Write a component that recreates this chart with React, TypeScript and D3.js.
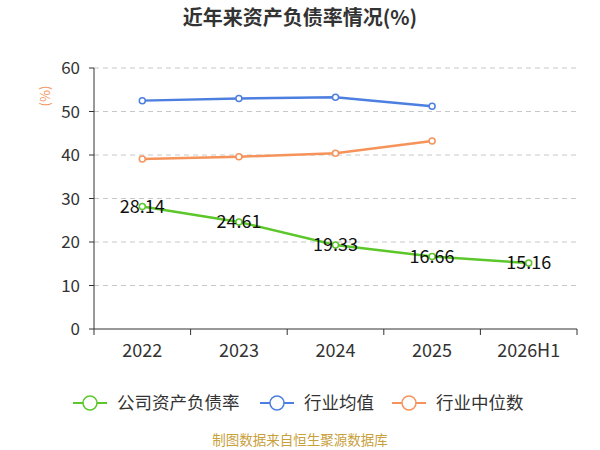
import React from "react";
import * as d3 from "d3";

const categories = ["2022", "2023", "2024", "2025", "2026H1"];
const companyRatio = [28.14, 24.61, 19.33, 16.66, 15.16];
const industryAvg = [52.5, 53.0, 53.3, 51.2];
const industryMedian = [39.1, 39.6, 40.4, 43.2];
const yTicks = [0, 10, 20, 30, 40, 50, 60];

const GREEN = "#5cc72a";
const BLUE = "#4c7fe0";
const ORANGE = "#f6935a";
const FONT = "'Noto Sans CJK SC', 'Noto Sans', sans-serif";

export default function App() {
  const x = d3.scaleBand().domain(categories).range([94, 577]);
  const y = d3.scaleLinear().domain([0, 60]).range([329, 68]);
  const cx = (i: number) => (x(categories[i]) as number) + x.bandwidth() / 2;
  const line = d3.line<number>().x((_, i) => cx(i)).y((d) => y(d));
  const series = [
    { data: industryAvg, color: BLUE },
    { data: industryMedian, color: ORANGE },
    { data: companyRatio, color: GREEN },
  ];
  const legend = [
    { label: "公司资产负债率", color: GREEN, x: 73 },
    { label: "行业均值", color: BLUE, x: 260 },
    { label: "行业中位数", color: ORANGE, x: 392 },
  ];
  return (
    <svg width={600} height={450} style={{ position: "absolute", left: 0, top: 0 }} fontFamily={FONT}>
      <rect width={600} height={450} fill="#fff" />
      <text x={300} y={25} textAnchor="middle" fontSize={20} fontWeight="bold" fill="#333">近年来资产负债率情况(%)</text>
      <text transform="translate(50,96) rotate(-90)" textAnchor="middle" fontSize={13} fill={ORANGE}>(%)</text>
      {yTicks.map((t) => (
        <g key={t}>
          {t > 0 && <line x1={94} x2={577} y1={y(t)} y2={y(t)} stroke="#c8c8c8" strokeDasharray="5,4" />}
          <line x1={89} x2={94} y1={y(t)} y2={y(t)} stroke="#333" />
          <text x={80} y={y(t) + 6} textAnchor="end" fontSize={17} fill="#333">{t}</text>
        </g>
      ))}
      <line x1={94} x2={94} y1={68} y2={329} stroke="#333" />
      <line x1={94} x2={577} y1={329} y2={329} stroke="#333" />
      {categories.map((c, i) => (
        <g key={c}>
          <line x1={x(c) as number} x2={x(c) as number} y1={329} y2={335} stroke="#333" />
          <text x={cx(i)} y={357} textAnchor="middle" fontSize={18} fill="#333">{c}</text>
        </g>
      ))}
      <line x1={577} x2={577} y1={329} y2={335} stroke="#333" />
      {series.map((s, k) => (
        <g key={k}>
          <path d={line(s.data) || ""} fill="none" stroke={s.color} strokeWidth={2.5} />
          {s.data.map((d, i) => (
            <circle key={i} cx={cx(i)} cy={y(d)} r={3} fill="#fff" stroke={s.color} strokeWidth={1.5} />
          ))}
        </g>
      ))}
      {companyRatio.map((d, i) => (
        <text key={i} x={cx(i)} y={y(d) + 6} textAnchor="middle" fontSize={18} fill="#111">{d.toFixed(2)}</text>
      ))}
      {legend.map((l) => (
        <g key={l.label}>
          <line x1={l.x} x2={l.x + 34} y1={403} y2={403} stroke={l.color} strokeWidth={2} />
          <circle cx={l.x + 17} cy={403} r={7} fill="#fff" stroke={l.color} strokeWidth={1.5} />
          <text x={l.x + 44} y={409} fontSize={17.5} fill="#333">{l.label}</text>
        </g>
      ))}
      <text x={300} y={445} textAnchor="middle" fontSize={13.5} fill="#c8a03c">制图数据来自恒生聚源数据库</text>
    </svg>
  );
}
